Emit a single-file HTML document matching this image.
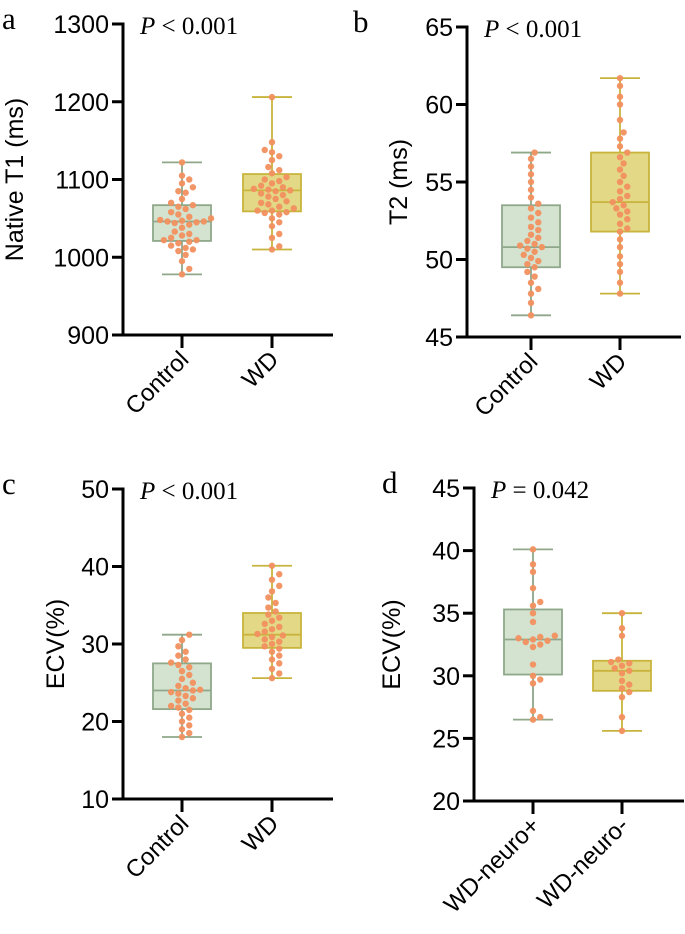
<!DOCTYPE html>
<html><head><meta charset="utf-8"><style>
body{margin:0;background:#fff}
svg text{font-family:"Liberation Sans",sans-serif}
</style></head><body>
<svg id="fig" width="685" height="929" viewBox="0 0 685 929" xmlns="http://www.w3.org/2000/svg"></svg>
<script>
const aCats=["Control","WD"];
const aCtrl=[978,985,995,1003,1008,1010,1012,1015,1018,1020,1022,1022,1025,1028,1030,1033,1038,1042,1044,1045,1046,1046,1047,1048,1050,1052,1055,1058,1062,1065,1067,1070,1075,1083,1085,1090,1095,1100,1105,1122];
const aWD=[1010,1014,1025,1030,1040,1045,1050,1055,1057,1058,1060,1060,1063,1065,1068,1070,1072,1075,1078,1080,1082,1085,1086,1087,1088,1090,1092,1095,1098,1100,1103,1108,1112,1116,1125,1130,1135,1138,1148,1206];
const aBoxes=[[978,1021,1046,1067,1122],[1010,1059,1086,1107,1206]];
const aTicks=[900,1000,1100,1200,1300];
const bCats=["Control","WD"];
const bCtrl=[46.4,47.2,47.8,48.1,48.5,48.9,49.2,49.5,49.7,49.9,50.1,50.3,50.5,50.7,50.8,50.9,51.0,51.2,51.4,51.6,51.9,52.1,52.4,52.7,53.0,53.3,53.6,54.0,54.5,55.0,55.5,56.0,56.5,56.9];
const bWD=[47.8,48.5,49.2,49.7,50.2,50.8,51.3,51.8,52.0,52.3,52.6,52.9,53.1,53.3,53.5,53.7,53.9,54.1,54.4,54.7,55.0,55.4,55.8,56.2,56.6,56.9,57.3,57.8,58.2,59.0,60.0,60.5,61.2,61.7];
const bBoxes=[[46.4,49.5,50.8,53.5,56.9],[47.8,51.8,53.7,56.9,61.7]];
const bTicks=[45,50,55,60,65];
const cCats=["Control","WD"];
const cCtrl=[18,18.5,19,19.5,20,20.5,21,21.5,21.8,22,22.3,22.7,23,23.3,23.6,23.8,24,24.1,24.3,24.6,25,25.5,26,26.5,27,27.3,27.6,28,28.5,29,29.7,30.5,31.2];
const cWD=[25.6,26.2,26.8,27.5,28,28.5,29,29.4,29.7,30,30.3,30.6,30.9,31.1,31.3,31.6,31.9,32.2,32.6,33,33.4,33.8,34.2,34.7,35.3,36,36.8,37.5,38.3,39,40.1];
const cBoxes=[[18,21.6,24,27.5,31.2],[25.6,29.5,31.2,34.0,40.1]];
const cTicks=[10,20,30,40,50];
const dCats=["WD-neuro+","WD-neuro-"];
const dPlus=[26.5,26.7,27.2,29.4,29.7,30,30.9,32.3,32.5,32.7,32.8,32.9,33,33.1,33.2,34.3,35,35.6,35.9,37,38.3,38.9,40.1];
const dMinus=[25.6,26.7,28.3,28.7,29,29.3,29.6,30.2,30.4,30.6,30.8,31,31.1,31.3,33.2,33.8,35];
const dBoxes=[[26.5,30.1,32.9,35.3,40.1],[25.6,28.8,30.4,31.2,35]];
const dTicks=[20,25,30,35,40,45];

const NS="http://www.w3.org/2000/svg";
const svg=document.getElementById('fig');
function mk(tag,attrs,parent,txt){const e=document.createElementNS(NS,tag);for(const k in attrs)e.setAttribute(k,attrs[k]);if(txt!==undefined)e.textContent=txt;(parent||svg).appendChild(e);return e;}
const fills=[["#d4e2d0","#8fa88a"],["#e3d886","#c8b43c"]];

function panel(letter,ax,yTop,yBot,ticks,cats,xs,groups,boxes,ptxt,ylabel,xEnd,titleX,letterX){
  const g=mk('g',{});
  
  
  const lo=ticks[0],hi=ticks[ticks.length-1];
  const y=v=>yBot-(v-lo)/(hi-lo)*(yBot-yTop);
  const L=mk('text',{x:letterX,y:yTop+5,'font-size':31,style:'font-family:"Liberation Serif",serif'},g,letter);
  
  
  groups.forEach((vals,i)=>{
    const cx=xs[i],b=boxes[i],[f,s]=fills[i];
    const bg=mk('g',{},g);
    
    
    mk('line',{x1:cx,x2:cx,y1:y(b[0]),y2:y(b[4]),stroke:s,'stroke-width':1.8},bg);
    mk('line',{x1:cx-20,x2:cx+20,y1:y(b[0]),y2:y(b[0]),stroke:s,'stroke-width':1.8},bg);
    mk('line',{x1:cx-20,x2:cx+20,y1:y(b[4]),y2:y(b[4]),stroke:s,'stroke-width':1.8},bg);
    mk('rect',{x:cx-29,y:y(b[3]),width:58,height:y(b[1])-y(b[3]),fill:f,stroke:s,'stroke-width':1.8},bg);
    mk('line',{x1:cx-29,x2:cx+29,y1:y(b[2]),y2:y(b[2]),stroke:s,'stroke-width':1.8},bg);
    const placed=[];const r=3.2,d=6.6;
    vals.forEach(v=>{
      const py=y(v);let best=0;
      for(let k=0;k<40;k++){const off=(k%2?1:-1)*Math.ceil(k/2)*d*0.55;
        if(placed.every(p=>Math.hypot(p[0]-(cx+off),p[1]-py)>=d)){best=off;break;}}
      placed.push([cx+best,py]);
      const c=mk('circle',{cx:cx+best,cy:py,r:r,fill:"#f2905f",opacity:0.95},bg);
      
      
    });
  });
  const ya=mk('g',{},g);
  
  
  mk('line',{x1:ax,x2:ax,y1:yTop-1.5,y2:yBot+1.5,stroke:"#000",'stroke-width':3},ya);
  ticks.forEach(t=>{mk('line',{x1:ax-11,x2:ax,y1:y(t),y2:y(t),stroke:"#000",'stroke-width':3},ya);
    const tl=mk('text',{x:ax-14,y:y(t)+9,'font-size':25,'text-anchor':'end'},ya,String(t));
    
    });
  const yt=mk('text',{transform:`translate(${titleX+9},${(yTop+yBot)/2}) rotate(-90)`,'font-size':25,'text-anchor':'middle'},g,ylabel);
  
  
  const xa=mk('g',{},g);
  
  
  mk('line',{x1:ax-1.5,x2:xEnd,y1:yBot,y2:yBot,stroke:"#000",'stroke-width':3},xa);
  cats.forEach((c,i)=>{mk('line',{x1:xs[i],x2:xs[i],y1:yBot,y2:yBot+13,stroke:"#000",'stroke-width':3},xa);
    const tl=mk('text',{transform:`translate(${xs[i]+8},${yBot+26}) rotate(-45)`,'font-size':24,'text-anchor':'end'},xa,c);
    
    });
  const p=mk('text',{x:ax+17,y:yTop+10,'font-size':25,style:'font-family:"Liberation Serif",serif'},g);
  
  
  mk('tspan',{'font-style':'italic'},p,'P');
  mk('tspan',{},p,ptxt);
}
panel('a',123,24,335,aTicks,aCats,[182,272],[aCtrl,aWD],aBoxes,' < 0.001','Native T1 (ms)',333,14,2);
panel('b',467,27,337,bTicks,bCats,[531,620],[bCtrl,bWD],bBoxes,' < 0.001','T2 (ms)',681,398,353);
panel('c',123,489,799,cTicks,cCats,[182,272],[cCtrl,cWD],cBoxes,' < 0.001','ECV(%)',333,55,2);
panel('d',474,488,801,dTicks,dCats,[533,622],[dPlus,dMinus],dBoxes,' =  0.042','ECV(%)',684,391,382);
</script>
</body></html>
